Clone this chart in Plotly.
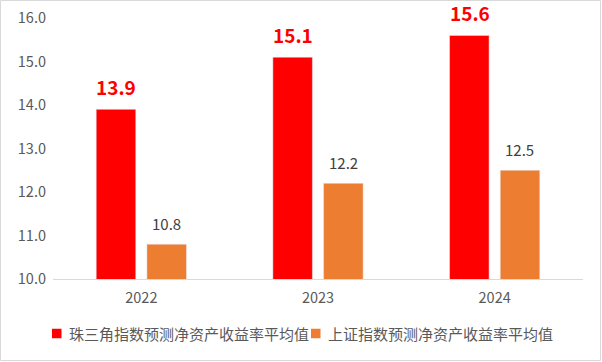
import plotly.graph_objects as go

years = ["2022", "2023", "2024"]
zsj_values = [13.9, 15.1, 15.6]
sz_values = [10.8, 12.2, 12.5]
series_names = ["珠三角指数预测净资产收益率平均值", "上证指数预测净资产收益率平均值"]
series_colors = ["#FF0000", "#ED7D31"]
y_ticks = [10.0, 11.0, 12.0, 13.0, 14.0, 15.0, 16.0]

W, H = 602, 362
ml, mr, mt, mb = 53, 19, 18, 83
pw, ph = W - ml - mr, H - mt - mb

font_family = "Noto Sans CJK SC, Noto Sans, sans-serif"
xpos = list(range(len(years)))


def px_x(p):
    return (p - ml) / pw


def px_y(p):
    return (H - mb - p) / ph


fig = go.Figure()
fig.add_trace(go.Bar(x=xpos, y=zsj_values, name=series_names[0], marker_color=series_colors[0],
                     showlegend=False))
fig.add_trace(go.Bar(x=xpos, y=sz_values, name=series_names[1], marker_color=series_colors[1],
                     showlegend=False))

for i in xpos:
    fig.add_annotation(x=i, y=zsj_values[i], text="<b>%.1f</b>" % zsj_values[i], showarrow=False,
                       xshift=-25, yshift=23, yanchor="middle",
                       font=dict(family=font_family, size=19, color="#FF0000"))
    fig.add_annotation(x=i, y=sz_values[i], text="%.1f" % sz_values[i], showarrow=False,
                       xshift=25, yshift=21, yanchor="middle",
                       font=dict(family=font_family, size=15, color="#404040"))

# chart border
fig.add_shape(type="rect", xref="paper", yref="paper",
              x0=px_x(0.5), x1=px_x(W - 1.5), y0=px_y(H - 1.5), y1=px_y(0.5),
              line=dict(color="#D9D9D9", width=1), layer="below")

# legend (manual, to match reference spacing)
legend_sq_x = [52, 311]
legend_txt_x = [67, 326]
legend_cy = 333.5
for k in range(2):
    fig.add_shape(type="rect", xref="paper", yref="paper",
                  x0=px_x(legend_sq_x[k]), x1=px_x(legend_sq_x[k] + 9.5),
                  y0=px_y(legend_cy + 4.75), y1=px_y(legend_cy - 4.75),
                  fillcolor=series_colors[k], line=dict(width=0))
    fig.add_annotation(xref="paper", yref="paper", x=px_x(legend_txt_x[k]), y=px_y(legend_cy),
                       xanchor="left", yanchor="middle", showarrow=False,
                       text=series_names[k],
                       font=dict(family=font_family, size=15, color="#595959"))

fig.update_layout(
    width=W, height=H,
    margin=dict(l=ml, r=mr, t=mt, b=mb, autoexpand=False),
    paper_bgcolor="white", plot_bgcolor="white",
    barmode="group", bargap=0.426, bargroupgap=0.22,
    font=dict(family=font_family, size=14.5, color="#595959"),
    showlegend=False,
    xaxis=dict(range=[-0.5, len(years) - 0.5], tickvals=xpos, ticktext=years,
               showgrid=False, showline=True, linecolor="#D9D9D9", zeroline=False,
               linewidth=1, ticks="", ticklabelstandoff=6,
               tickfont=dict(size=14.5, color="#595959")),
    yaxis=dict(range=[10, 16], tickvals=y_ticks, ticktext=["%.1f" % v for v in y_ticks],
               showgrid=False, showline=False, zeroline=False, ticks="",
               ticklabelstandoff=6,
               tickfont=dict(size=14.5, color="#595959")),
)

fig.write_html("out.html", config={"displayModeBar": False},
               post_script="document.body.style.margin='0';")
